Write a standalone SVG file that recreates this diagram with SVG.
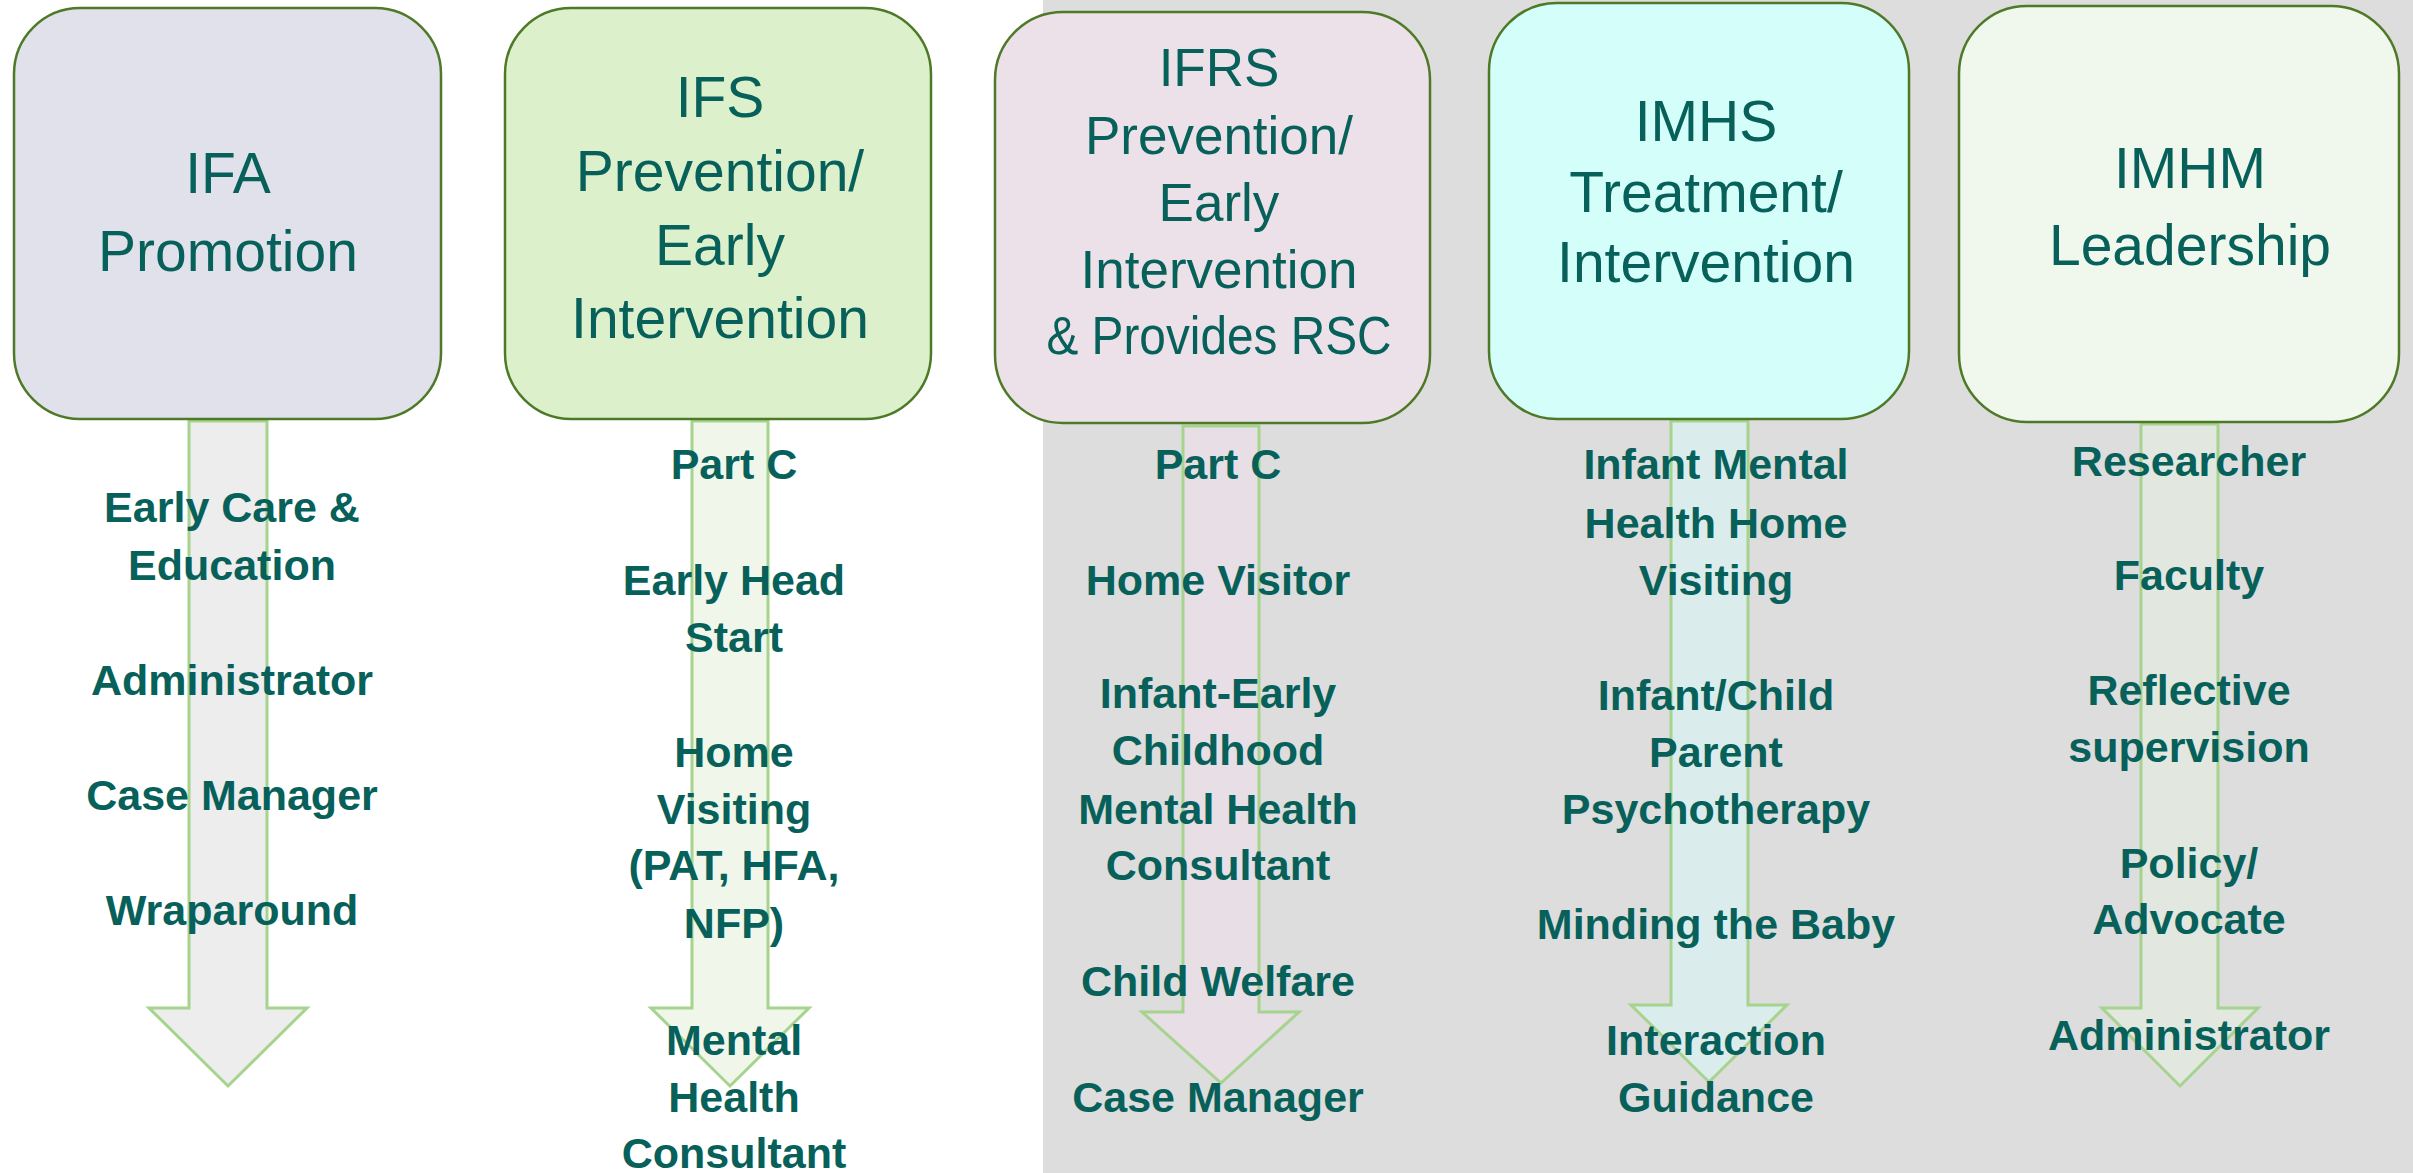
<svg xmlns="http://www.w3.org/2000/svg" width="2413" height="1173" viewBox="0 0 2413 1173">
<style>
.box{stroke:#4E7A28;stroke-width:2.5}
.arr{stroke:#A6D38D;stroke-width:3;stroke-linejoin:miter}
.h{font-family:"Liberation Sans",Arial,sans-serif;font-size:57px;fill:#07615A;text-anchor:middle}
.h3{font-size:53px}
.b{font-family:"Liberation Sans",Arial,sans-serif;font-size:43px;font-weight:bold;fill:#07615A;text-anchor:middle}
</style>
<rect x="0" y="0" width="2413" height="1173" fill="#FFFFFF"/>
<rect x="1043" y="0" width="1370" height="1173" fill="#DDDDDD"/>
<g id="connectors">
<polygon class="arr" fill="#EDEDED" points="189,421 267,421 267,1008 307,1008 228,1086 149,1008 189,1008"/>
<polygon class="arr" fill="#F0F7EA" points="692,421 768,421 768,1008 809,1008 730,1086 651,1008 692,1008"/>
<polygon class="arr" fill="#E7DFE5" points="1183,426 1259,426 1259,1012 1299,1012 1221,1083 1142,1012 1183,1012"/>
<polygon class="arr" fill="#DAEDEC" points="1671,421 1748,421 1748,1005 1787,1005 1709,1082 1631,1005 1671,1005"/>
<polygon class="arr" fill="#E2E7DF" points="2141,424 2218,424 2218,1008 2258,1008 2180,1086 2102,1008 2141,1008"/>
</g>
<g id="ifa">
<rect class="box" x="14" y="8" width="427" height="411" rx="66" ry="66" fill="#E1E1EB"/>
<text class="h" x="228" y="193">IFA</text>
<text class="h" x="228" y="271">Promotion</text>
<text class="b" x="232" y="522">Early Care &amp;</text>
<text class="b" x="232" y="580">Education</text>
<text class="b" x="232" y="695">Administrator</text>
<text class="b" x="232" y="810">Case Manager</text>
<text class="b" x="232" y="925">Wraparound</text>
</g>
<g id="ifs">
<rect class="box" x="505" y="8" width="426" height="411" rx="66" ry="66" fill="#DCF0CB"/>
<text class="h" x="720" y="117">IFS</text>
<text class="h" x="720" y="191">Prevention/</text>
<text class="h" x="720" y="265">Early</text>
<text class="h" x="720" y="338">Intervention</text>
<text class="b" x="734" y="479">Part C</text>
<text class="b" x="734" y="595">Early Head</text>
<text class="b" x="734" y="652">Start</text>
<text class="b" x="734" y="767">Home</text>
<text class="b" x="734" y="824">Visiting</text>
<text class="b" x="734" y="880">(PAT, HFA,</text>
<text class="b" x="734" y="938">NFP)</text>
<text class="b" x="734" y="1055">Mental</text>
<text class="b" x="734" y="1112">Health</text>
<text class="b" x="734" y="1168">Consultant</text>
</g>
<g id="ifrs">
<rect class="box" x="995" y="12" width="435" height="411" rx="68" ry="68" fill="#EDE1E9"/>
<text class="h h3" x="1219" y="86">IFRS</text>
<text class="h h3" x="1219" y="154">Prevention/</text>
<text class="h h3" x="1219" y="221">Early</text>
<text class="h h3" x="1219" y="288">Intervention</text>
<text class="h h3" x="1219" y="354" textLength="345" lengthAdjust="spacingAndGlyphs">&amp; Provides RSC</text>
<text class="b" x="1218" y="479">Part C</text>
<text class="b" x="1218" y="595">Home Visitor</text>
<text class="b" x="1218" y="708">Infant-Early</text>
<text class="b" x="1218" y="765">Childhood</text>
<text class="b" x="1218" y="824">Mental Health</text>
<text class="b" x="1218" y="880">Consultant</text>
<text class="b" x="1218" y="996">Child Welfare</text>
<text class="b" x="1218" y="1112">Case Manager</text>
</g>
<g id="imhs">
<rect class="box" x="1489" y="3" width="420" height="416" rx="68" ry="68" fill="#D4FEF9"/>
<text class="h" x="1706" y="141">IMHS</text>
<text class="h" x="1706" y="212">Treatment/</text>
<text class="h" x="1706" y="282">Intervention</text>
<text class="b" x="1716" y="479">Infant Mental</text>
<text class="b" x="1716" y="538">Health Home</text>
<text class="b" x="1716" y="595">Visiting</text>
<text class="b" x="1716" y="710">Infant/Child</text>
<text class="b" x="1716" y="767">Parent</text>
<text class="b" x="1716" y="824">Psychotherapy</text>
<text class="b" x="1716" y="939">Minding the Baby</text>
<text class="b" x="1716" y="1055">Interaction</text>
<text class="b" x="1716" y="1112">Guidance</text>
</g>
<g id="imhm">
<rect class="box" x="1959" y="6" width="440" height="416" rx="68" ry="68" fill="#F0F7EC"/>
<text class="h" x="2190" y="188">IMHM</text>
<text class="h" x="2190" y="265">Leadership</text>
<text class="b" x="2189" y="476">Researcher</text>
<text class="b" x="2189" y="590">Faculty</text>
<text class="b" x="2189" y="705">Reflective</text>
<text class="b" x="2189" y="762">supervision</text>
<text class="b" x="2189" y="878">Policy/</text>
<text class="b" x="2189" y="934">Advocate</text>
<text class="b" x="2189" y="1050">Administrator</text>
</g>
</svg>
